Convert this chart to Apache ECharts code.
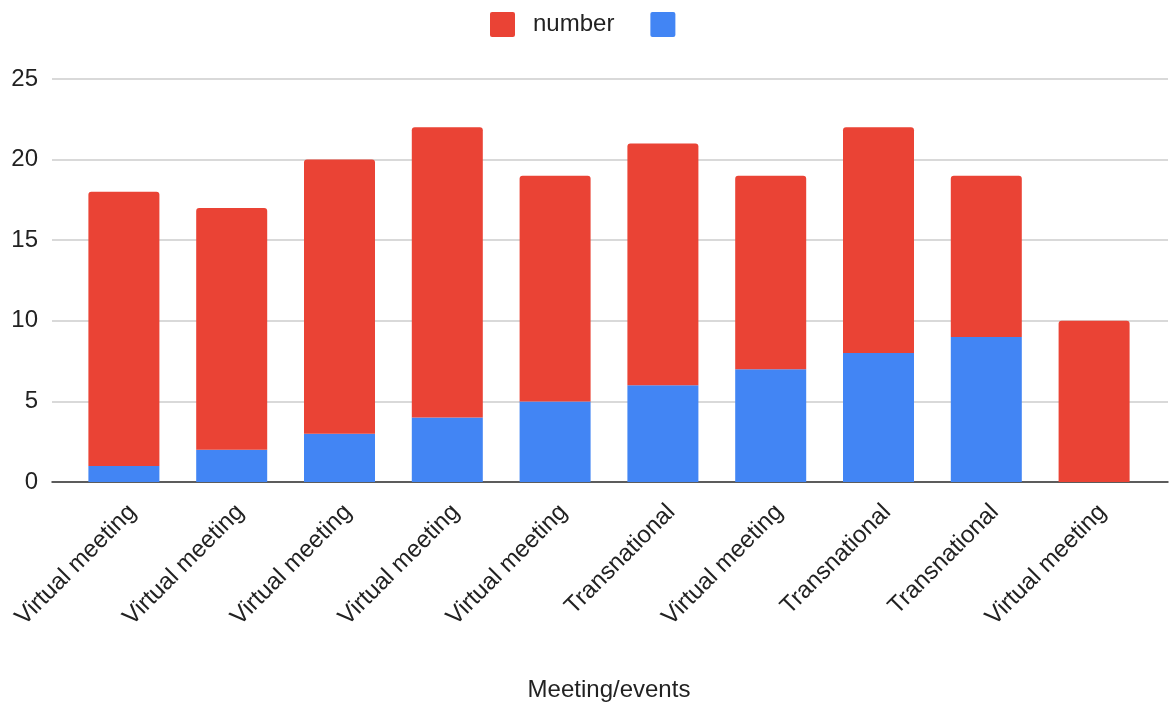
<!DOCTYPE html>
<html>
<head>
<meta charset="utf-8">
<style>
  html, body { margin: 0; padding: 0; background: #fff; }
  #chart { width: 1170px; height: 702px; }
</style>
<script src="https://cdn.jsdelivr.net/npm/echarts@6/dist/echarts.min.js"></script>
</head>
<body>
<div id="chart"></div>
<script>
// Meeting/event categories along the x axis
const categories = [
  'Virtual meeting', 'Virtual meeting', 'Virtual meeting', 'Virtual meeting',
  'Virtual meeting', 'Transnational', 'Virtual meeting', 'Transnational',
  'Transnational', 'Virtual meeting'
];
// Lower (blue) segment of each stacked bar
const blueValues = [1, 2, 3, 4, 5, 6, 7, 8, 9, 0];
// Upper (red) "number" segment of each stacked bar
const numberValues = [17, 15, 17, 18, 14, 15, 12, 14, 10, 10];
const yTicks = [0, 5, 10, 15, 20, 25];

const FONT = 'Liberation Sans, Arial, sans-serif';
const RED = '#EA4335';
const BLUE = '#4285F4';
// square legend key with slightly rounded corners
const KEY_ICON = 'path://M2,0 H22 Q24,0 24,2 V22 Q24,24 22,24 H2 Q0,24 0,22 V2 Q0,0 2,0 Z';

const chart = echarts.init(document.getElementById('chart'), null, { renderer: 'canvas' });

chart.setOption({
  animation: false,
  backgroundColor: '#ffffff',
  textStyle: { fontFamily: FONT },
  legend: {
    top: 12,
    left: 490,
    padding: 0,
    itemWidth: 25,
    itemHeight: 25,
    itemGap: 36,
    icon: KEY_ICON,
    textStyle: { fontSize: 24, color: '#222', fontFamily: FONT, padding: [0, 0, 0, 13] },
    data: ['number', ' ']
  },
  grid: [
    // full-width frame carrying the value scale and gridlines
    { left: 52, right: 2, top: 79, bottom: 220, outerBoundsMode: 'none', containLabel: false },
    // inset frame holding the bars
    { left: 70, right: 22, top: 79, bottom: 220, outerBoundsMode: 'none', containLabel: false }
  ],
  xAxis: [
    {
      gridIndex: 0, type: 'value', min: 0, max: 1,
      axisLine: { show: true, onZero: false, lineStyle: { color: '#333', width: 1.5 } },
      axisTick: { show: false }, axisLabel: { show: false }, splitLine: { show: false }
    },
    {
      gridIndex: 1, type: 'category', data: categories,
      axisLine: { show: false }, axisTick: { show: false },
      axisLabel: {
        interval: 0, rotate: 45, margin: 18, verticalAlign: 'top',
        fontSize: 24, color: '#222', fontFamily: FONT
      },
      name: 'Meeting/events',
      nameLocation: 'middle',
      nameGap: 196,
      nameTextStyle: { fontSize: 24, color: '#222', fontFamily: FONT }
    }
  ],
  yAxis: [
    {
      gridIndex: 0, type: 'value', min: yTicks[0], max: yTicks[yTicks.length - 1], interval: 5,
      axisLine: { show: false }, axisTick: { show: false },
      axisLabel: { margin: 14, fontSize: 24, color: '#222', fontFamily: FONT },
      splitLine: { lineStyle: { color: '#cccccc', width: 1.5 } }
    },
    {
      gridIndex: 1, type: 'value', min: yTicks[0], max: yTicks[yTicks.length - 1], interval: 5,
      show: false, splitLine: { show: false }
    }
  ],
  series: [
    {
      name: ' ', type: 'bar', stack: 'total', xAxisIndex: 1, yAxisIndex: 1,
      data: blueValues, barWidth: 71, itemStyle: { color: BLUE }, z: 3
    },
    {
      name: 'number', type: 'bar', stack: 'total', xAxisIndex: 1, yAxisIndex: 1,
      data: numberValues, barWidth: 71, itemStyle: { color: RED, borderRadius: [3, 3, 0, 0] }, z: 3
    }
  ]
});
</script>
</body>
</html>
